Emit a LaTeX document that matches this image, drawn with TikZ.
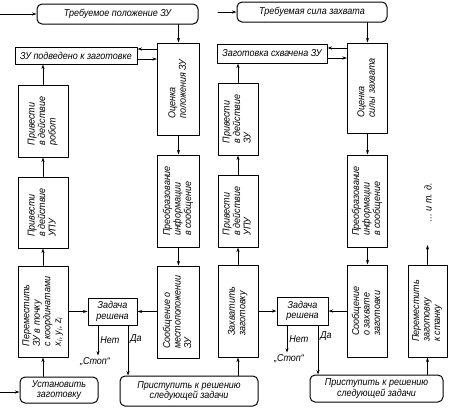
\documentclass[tikz,border=0pt]{standalone}
\usepackage{fontspec}
\setmainfont{Liberation Sans}[FakeStretch=0.9]
\usepackage{graphicx}
\usetikzlibrary{arrows.meta, positioning, calc}

% vertical text inside the tall boxes
\newcommand{\vtext}[1]{\rotatebox{90}{\begin{tabular}{@{}l@{}}#1\end{tabular}}}

\begin{document}
\begin{tikzpicture}[x=1pt, y=-1pt, line join=round, line cap=round,
        font=\itshape\fontsize{10}{10.5}\selectfont,
        box/.style={draw, line width=1pt, inner sep=1pt, align=center},
        rbox/.style={box, rounded corners=5pt},
        arr/.style={-{Stealth[length=4.5pt, width=3pt]}, line width=0.75pt},
        lbl/.style={inner sep=2pt}]
    \useasboundingbox (0,0) rectangle (450,410);

    % left half: position of the gripper
    \coordinate (in1) at (0,14);
    \node[rbox, minimum width=161pt, minimum height=20pt] (req1) at (117.5,14) {Требуемое положение ЗУ};
    \node[box, minimum width=122pt, minimum height=17pt] (zu1) at (76,55.5) {ЗУ подведено к заготовке};
    \node[box, minimum width=42pt, minimum height=92pt] (est1) at (178.5,89) {\vtext{Оценка\\положения ЗУ}};
    \node[box, minimum width=50pt, minimum height=72pt] (act1) at (43,121) {\vtext{Привести\\в действие\\робот}};
    \node[box, minimum width=42pt, minimum height=92pt] (conv1) at (178.5,201) {\vtext{Преобразование\\информации\\в сообщение}};
    \node[box, minimum width=50pt, minimum height=71pt] (upu1) at (43,212.5) {\vtext{Привести\\в действие\\УПУ}};
    \node[box, minimum width=50pt, minimum height=91pt] (mv1) at (43,311.5)
        {\vtext{Переместить\\ЗУ в точку\\с координатами\\x\textsubscript{i}, y\textsubscript{i}, z\textsubscript{i}}};
    \node[box, minimum width=49pt, minimum height=27pt] (done1) at (112.5,311.5) {Задача\\решена};
    \node[box, minimum width=42pt, minimum height=92pt] (msg1) at (178.5,312) {\vtext{Сообщение о\\местоположении\\ЗУ}};
    \node[lbl] (stop1) at (95,362) {„Стоп“};
    \coordinate (in3) at (0,392);
    \node[rbox, minimum width=78pt, minimum height=26pt] (set) at (59,390) {Установить\\заготовку};
    \node[rbox, minimum width=138pt, minimum height=30pt] (next1) at (189,391) {Приступить к решению\\следующей задачи};

    % right half: gripping force
    \coordinate (in2) at (218,12);
    \node[rbox, minimum width=150pt, minimum height=20pt] (req2) at (312,12) {Требуемая сила захвата};
    \node[box, minimum width=110pt, minimum height=19pt] (zu2) at (272,53.5) {Заготовка схвачена ЗУ};
    \node[box, minimum width=40pt, minimum height=90pt] (est2) at (367.5,88) {\vtext{Оценка\\силы захвата}};
    \node[box, minimum width=40pt, minimum height=72pt] (act2) at (238,119) {\vtext{Привести\\в действие\\ЗУ}};
    \node[box, minimum width=40pt, minimum height=92pt] (conv2) at (367.5,201) {\vtext{Преобразование\\информации\\в сообщение}};
    \node[box, minimum width=40pt, minimum height=72pt] (upu2) at (238,211) {\vtext{Привести\\в действие\\УПУ}};
    \node[box, minimum width=40pt, minimum height=92pt] (grip) at (238,311) {\vtext{Захватить\\заготовку}};
    \node[box, minimum width=51pt, minimum height=28pt] (done2) at (302.5,311) {Задача\\решена};
    \node[box, minimum width=40pt, minimum height=92pt] (msg2) at (367.5,311) {\vtext{Сообщение\\о захвате\\заготовки}};
    \node[box, minimum width=39pt, minimum height=92pt] (mv2) at (427.5,311) {\vtext{Переместить\\заготовку\\к станку}};
    \node[lbl] (stop2) at (289,359) {„Стоп“};
    \node[rbox, minimum width=133pt, minimum height=27pt] (next2) at (376.5,388.5) {Приступить к решению\\следующей задачи};
    \node[rotate=90] (etc) at (428,203) {\dots\ и т. д.};
    \coordinate (etcend) at (427.5,245);

    % arrows, left half
    \coordinate (zu1a) at ($(zu1.east)+(0,-6.5)$);
    \coordinate (zu1b) at ($(zu1.east)+(0,3.5)$);
    \draw[arr] (in1) -- (req1.west);
    \draw[arr] (req1.south -| est1.north) -- (est1.north);
    \draw[arr] (zu1a -| est1.west) -- (zu1a);
    \draw[arr] (zu1b) -- (zu1b -| est1.west);
    \draw[arr] (est1.south) -- (conv1.north);
    \draw[arr] (conv1.south) -- (msg1.north);
    \draw[arr] (act1.north) -- (act1.north |- zu1.south);
    \draw[arr] (upu1.north) -- (act1.south);
    \draw[arr] (mv1.north) -- (upu1.south);
    \draw[arr] (in3) -- (in3 -| set.west);
    \draw[arr] (set.north -| mv1.south) -- (mv1.south);
    \draw[arr] (mv1.east |- done1.west) -- (done1.west);
    \draw[arr] (msg1.west |- done1.east) -- (done1.east);
    \coordinate (no1) at ([xshift=-14.5pt]done1.south);
    \coordinate (yes1) at ([xshift=15.5pt]done1.south);
    \draw[arr] (no1) -- (no1 |- stop1.north) node[midway, right, lbl] {Нет};
    \draw[arr] (yes1) -- (yes1 |- next1.north) node[pos=0.27, right, lbl] {Да};
    \draw[arr] (grip.south |- next1.north) -- (grip.south);

    % arrows, right half
    \coordinate (zu2a) at ($(zu2.east)+(0,-5.5)$);
    \coordinate (zu2b) at ($(zu2.east)+(0,4.5)$);
    \draw[arr] (in2) -- (req2.west);
    \draw[arr] (req2.south -| est2.north) -- (est2.north);
    \draw[arr] (zu2a -| est2.west) -- (zu2a);
    \draw[arr] (zu2b) -- (zu2b -| est2.west);
    \draw[arr] (est2.south) -- (conv2.north);
    \draw[arr] (conv2.south) -- (msg2.north);
    \draw[arr] (act2.north) -- (act2.north |- zu2.south);
    \draw[arr] (upu2.north) -- (act2.south);
    \draw[arr] (grip.north) -- (upu2.south);
    \draw[arr] (grip.east |- done2.west) -- (done2.west);
    \draw[arr] (msg2.west |- done2.east) -- (done2.east);
    \coordinate (no2) at ([xshift=-15.5pt]done2.south);
    \coordinate (yes2) at ([xshift=15.5pt]done2.south);
    \draw[arr] (no2) -- (no2 |- stop2.north) node[midway, right, lbl] {Нет};
    \draw[arr] (yes2) -- (yes2 |- next2.north) node[pos=0.22, right, lbl] {Да};
    \draw[arr] (mv2.south |- next2.north) -- (mv2.south);
    \draw[arr] (mv2.north) -- (etcend);
\end{tikzpicture}
\end{document}
